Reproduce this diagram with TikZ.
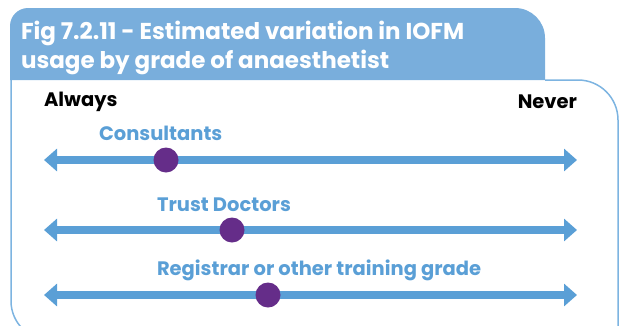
\documentclass[tikz,border=0pt]{standalone}
\usepackage{fontspec}
\setmainfont{Poppins}
\usetikzlibrary{arrows.meta}

\definecolor{tabblue}{HTML}{79AEDC}
\definecolor{lineblue}{HTML}{7DB4E1}
\definecolor{barblue}{HTML}{5A9FD6}
\definecolor{dotpurple}{HTML}{652D89}
\definecolor{labblue}{HTML}{5A9FD6}

\begin{document}
\begin{tikzpicture}[x=1pt,y=-1pt]
\tikzset{ >={Triangle[length=13pt,width=22pt]}, inner sep=0pt, outer sep=0pt,
  scalebar/.style={<->, line width=7.5pt, barblue},
  grade/.style={circle, fill=dotpurple, minimum size=25pt},
  gradelab/.style={anchor=west, text=labblue, font=\fontsize{19.5}{22}\selectfont\bfseries},
  endlab/.style={font=\fontsize{19.5}{22}\selectfont\bfseries},
  titlelab/.style={anchor=west, text=white, font=\fontsize{23}{27}\selectfont\bfseries},
}
\useasboundingbox (0,0) rectangle (619,325);
\clip (0,0) rectangle (619,325);

% frame and title tab
\draw [lineblue, line width=1.5pt] (545,80) -- (578,80) arc (-90:0:40) -- (618,340)
  -- (50,340) arc (90:180:39) -- (11,80);
\fill [tabblue] (10,80) -- (10,26) arc (180:270:18) -- (515,8) arc (270:360:30) -- (545,80) -- cycle;

\node [titlelab] (T1) at (21,33) {Fig 7.2.11 - Estimated variation in IOFM};
\node [titlelab] (T2) at (21,62) {usage by grade of anaesthetist};

\node [endlab, anchor=west] (A) at (44,102) {Always};
\node [endlab, anchor=east] (N) at (577,102) {Never};

% scales
\coordinate (L1) at (44,160);  \coordinate (R1) at (577,160);
\coordinate (L2) at (44,230);  \coordinate (R2) at (577,230);
\coordinate (L3) at (44,295);  \coordinate (R3) at (577,295);

\draw [scalebar] (L1) -- (R1);
\draw [scalebar] (L2) -- (R2);
\draw [scalebar] (L3) -- (R3);

\node [gradelab] (C) at (99,133) {Consultants};
\node [gradelab] (D) at (157,205) {Trust Doctors};
\node [gradelab] (G) at (157,270) {Registrar or other training grade};

\node [grade] (C1) at (166,160) {};
\node [grade] (D1) at (232,230) {};
\node [grade] (G1) at (268,295) {};

\end{tikzpicture}
\end{document}
